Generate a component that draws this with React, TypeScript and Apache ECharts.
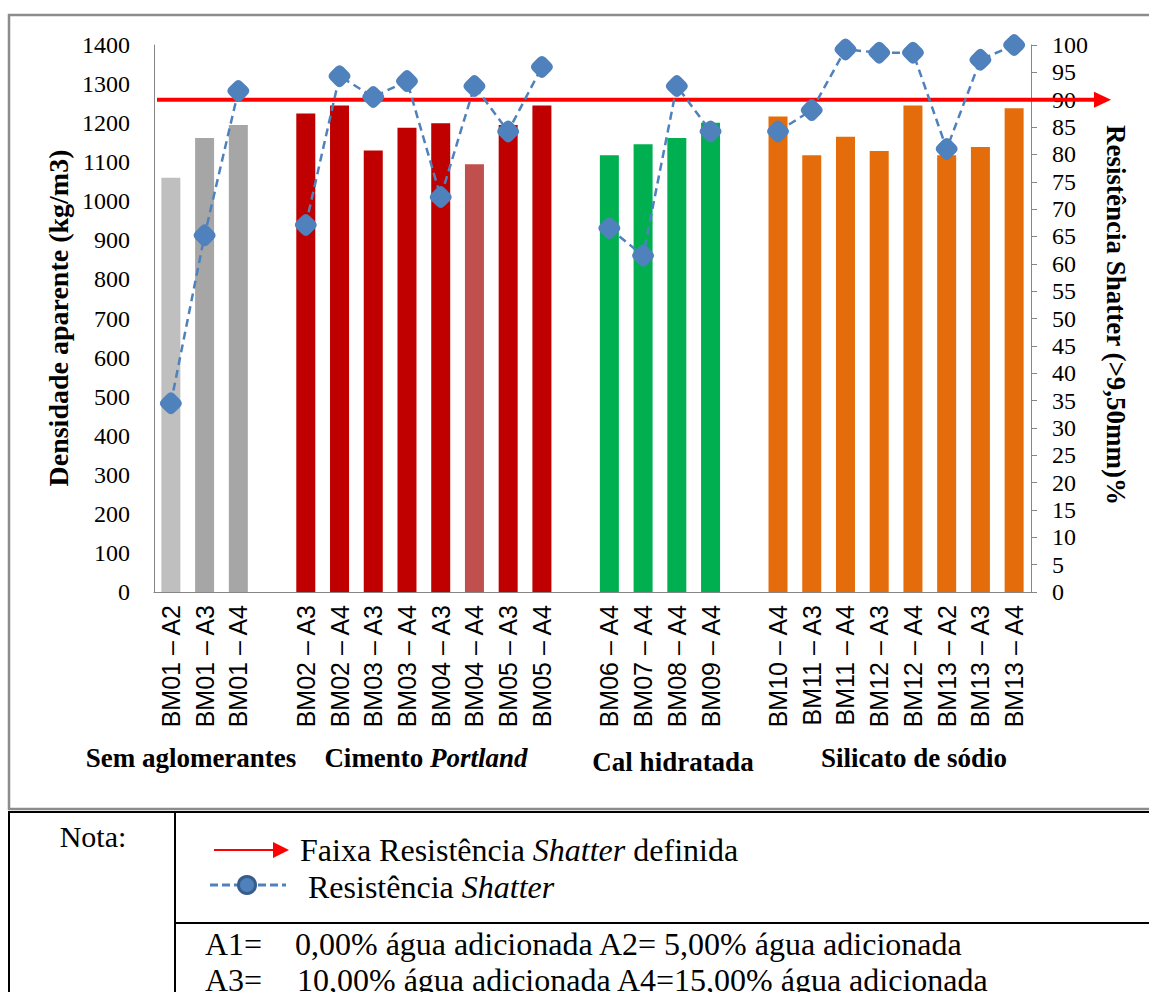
import React, { useEffect, useRef } from "react";
import * as echarts from "echarts";

// Samples (binder – added water level); empty strings separate the binder groups
const categories = [
  "BM01 – A2", "BM01 – A3", "BM01 – A4", "",
  "BM02 – A3", "BM02 – A4", "BM03 – A3", "BM03 – A4", "BM04 – A3", "BM04 – A4", "BM05 – A3", "BM05 – A4", "",
  "BM06 – A4", "BM07 – A4", "BM08 – A4", "BM09 – A4", "",
  "BM10 – A4", "BM11 – A3", "BM11 – A4", "BM12 – A3", "BM12 – A4", "BM13 – A2", "BM13 – A3", "BM13 – A4",
];

// Apparent density (kg/m3)
const density = [
  1060, 1162, 1195, null,
  1225, 1245, 1130, 1188, 1200, 1095, 1195, 1245, null,
  1118, 1146, 1162, 1201, null,
  1217, 1118, 1165, 1129, 1245, 1118, 1139, 1238,
];

// Shatter resistance (>9,50 mm) %
const shatter = [
  34.5, 65.2, 91.6, null,
  67.1, 94.3, 90.5, 93.4, 72.2, 92.5, 84.2, 96.0, null,
  66.5, 61.5, 92.5, 84.2, null,
  84.2, 88.1, 99.2, 98.6, 98.6, 81.0, 97.3, 100,
];

// Defined shatter-resistance threshold (%)
const shatterTarget = 90;

const groupLabels = ["Sem aglomerantes", "Cimento ", "Portland", "Cal hidratada", "Silicato de sódio"];
const noteLines = [
  ["A1=", "0,00% água adicionada A2= 5,00% água adicionada"],
  ["A3=", "10,00% água adicionada A4=15,00% água adicionada"],
];

// Bar fill per category
const barColors = [
  "#bfbfbf", "#a6a6a6", "#a6a6a6", "",
  "#c00000", "#c00000", "#c00000", "#c00000", "#c00000", "#c0504d", "#c00000", "#c00000", "",
  "#00b050", "#00b050", "#00b050", "#00b050", "",
  "#e46c0a", "#e46c0a", "#e46c0a", "#e46c0a", "#e46c0a", "#e46c0a", "#e46c0a", "#e46c0a",
];

const SERIF = "'Liberation Serif', 'Times New Roman', serif";
const SANS = "'Liberation Sans', Arial, sans-serif";
const BLUE = "#4f81bd";
const ROUNDED_DIAMOND =
  "path://M7,3 Q10,0 13,3 L17,7 Q20,10 17,13 L13,17 Q10,20 7,17 L3,13 Q0,10 3,7 Z";

export default function App() {
  const ref = useRef<HTMLDivElement>(null);

  useEffect(() => {
    if (!ref.current) return;
    const chart = echarts.init(ref.current, undefined, { renderer: "svg" });

    chart.setOption({
      animation: false,
      backgroundColor: "#ffffff",
      grid: { left: 154, right: 118, top: 45, bottom: 400, containLabel: false },
      xAxis: {
        type: "category",
        data: categories,
        boundaryGap: true,
        axisLine: { lineStyle: { color: "#868686", width: 1 } },
        axisTick: { show: false },
        axisLabel: {
          interval: 0,
          rotate: 90,
          margin: 13,
          fontFamily: SANS,
          fontSize: 25,
          color: "#000",
        },
      },
      yAxis: [
        {
          type: "value",
          min: 0,
          max: 1400,
          interval: 100,
          axisLine: { show: true, lineStyle: { color: "#868686", width: 1 } },
          axisTick: { show: false },
          splitLine: { show: false },
          axisLabel: {
            margin: 24,
            fontFamily: SERIF,
            fontSize: 24,
            color: "#000",
            formatter: (v: number) => String(v),
          },
        },
        {
          type: "value",
          position: "right",
          min: 0,
          max: 100,
          interval: 5,
          axisLine: { show: true, lineStyle: { color: "#868686", width: 1 } },
          axisTick: { show: true, length: 6, lineStyle: { color: "#868686" } },
          splitLine: { show: false },
          axisLabel: {
            margin: 21,
            fontFamily: SERIF,
            fontSize: 24,
            color: "#000",
            lineHeight: 24,
            formatter: (v: number) => String(v),
          },
        },
      ],
      series: [
        {
          name: "Densidade aparente",
          type: "bar",
          yAxisIndex: 0,
          barWidth: 19,
          z: 2,
          data: density.map((v, i) => ({ value: v, itemStyle: { color: barColors[i] } })),
        },
        {
          name: "Resistência Shatter",
          type: "line",
          yAxisIndex: 1,
          z: 4,
          connectNulls: false,
          data: shatter,
          symbol: ROUNDED_DIAMOND,
          symbolSize: 22,
          itemStyle: { color: BLUE },
          lineStyle: { color: BLUE, width: 2.5, type: [8, 5] },
        },
      ],
    });

    // Threshold arrow positioned through the right-hand axis scale
    const yT = chart.convertToPixel({ yAxisIndex: 1 }, shatterTarget) as number;

    const bold = { fontFamily: SERIF, fontWeight: "bold", fontSize: 27, fill: "#000" };
    const plain = { fontFamily: SERIF, fontSize: 32, fill: "#000" };
    const rich32 = {
      r: { fontFamily: SERIF, fontSize: 32, color: "#000" },
      i: { fontFamily: SERIF, fontStyle: "italic", fontSize: 32, color: "#000" },
    };

    chart.setOption({
      graphic: [
        // outer chart frame
        {
          type: "rect",
          z: 0,
          shape: { x: 9, y: 15, width: 1160, height: 794 },
          style: { fill: "none", stroke: "#8c8c8c", lineWidth: 2.5 },
        },
        // threshold line with arrow head
        {
          type: "line",
          z: 3,
          shape: { x1: 157, y1: yT, x2: 1096, y2: yT },
          style: { stroke: "#ff0000", lineWidth: 4 },
        },
        {
          type: "polygon",
          z: 3,
          shape: { points: [[1094, yT - 8], [1111, yT], [1094, yT + 8]] },
          style: { fill: "#ff0000" },
        },
        // axis titles
        {
          type: "text",
          x: 58,
          y: 318,
          rotation: Math.PI / 2,
          style: { ...bold, fontSize: 28, text: "Densidade aparente (kg/m3)", align: "center", verticalAlign: "middle" },
        },
        {
          type: "text",
          x: 1116,
          y: 315,
          rotation: -Math.PI / 2,
          style: { ...bold, fontSize: 27, text: "Resistência Shatter (>9,50mm)%", align: "center", verticalAlign: "middle" },
        },
        // group labels
        {
          type: "text",
          x: 191,
          y: 758,
          style: { ...bold, text: groupLabels[0], align: "center", verticalAlign: "middle" },
        },
        {
          type: "text",
          x: 426,
          y: 758,
          style: {
            text: `{a|${groupLabels[1]}}{b|${groupLabels[2]}}`,
            align: "center",
            verticalAlign: "middle",
            rich: {
              a: { fontFamily: SERIF, fontWeight: "bold", fontSize: 27, color: "#000" },
              b: { fontFamily: SERIF, fontWeight: "bold", fontStyle: "italic", fontSize: 27, color: "#000" },
            },
          },
        },
        {
          type: "text",
          x: 673,
          y: 762,
          style: { ...bold, text: groupLabels[3], align: "center", verticalAlign: "middle" },
        },
        {
          type: "text",
          x: 914,
          y: 758,
          style: { ...bold, text: groupLabels[4], align: "center", verticalAlign: "middle" },
        },
        // note table borders
        { type: "line", shape: { x1: 8, y1: 812, x2: 1149, y2: 812 }, style: { stroke: "#000", lineWidth: 2 } },
        { type: "line", shape: { x1: 9, y1: 812, x2: 9, y2: 992 }, style: { stroke: "#000", lineWidth: 2 } },
        { type: "line", shape: { x1: 175, y1: 812, x2: 175, y2: 992 }, style: { stroke: "#000", lineWidth: 2 } },
        { type: "line", shape: { x1: 175, y1: 923, x2: 1149, y2: 923 }, style: { stroke: "#000", lineWidth: 2 } },
        // note table content
        { type: "text", x: 93, y: 836, style: { ...plain, fontSize: 30, text: "Nota:", align: "center", verticalAlign: "middle" } },
        { type: "line", shape: { x1: 214, y1: 850, x2: 276, y2: 850 }, style: { stroke: "#ff0000", lineWidth: 2 } },
        { type: "polygon", shape: { points: [[273, 842], [289, 850], [273, 858]] }, style: { fill: "#ff0000" } },
        {
          type: "text",
          x: 300,
          y: 850,
          style: {
            text: "{r|Faixa Resistência }{i|Shatter}{r| definida}",
            verticalAlign: "middle",
            rich: rich32,
          },
        },
        {
          type: "line",
          shape: { x1: 210, y1: 885, x2: 286, y2: 885 },
          style: { stroke: BLUE, lineWidth: 3, lineDash: [8, 4] },
        },
        {
          type: "circle",
          shape: { cx: 247, cy: 885, r: 8.5 },
          style: { fill: BLUE, stroke: "#385d8a", lineWidth: 3 },
        },
        {
          type: "text",
          x: 308,
          y: 887,
          style: {
            text: "{r|Resistência }{i|Shatter}",
            verticalAlign: "middle",
            rich: rich32,
          },
        },
        { type: "text", x: 205, y: 944, style: { ...plain, text: noteLines[0][0], verticalAlign: "middle" } },
        { type: "text", x: 295, y: 944, style: { ...plain, text: noteLines[0][1], verticalAlign: "middle" } },
        { type: "text", x: 205, y: 980, style: { ...plain, text: noteLines[1][0], verticalAlign: "middle" } },
        { type: "text", x: 297, y: 980, style: { ...plain, text: noteLines[1][1], verticalAlign: "middle" } },
      ],
    });

    return () => chart.dispose();
  }, []);

  return (
    <div
      ref={ref}
      style={{ position: "fixed", left: 0, top: 0, width: 1149, height: 992, background: "#fff" }}
    />
  );
}
